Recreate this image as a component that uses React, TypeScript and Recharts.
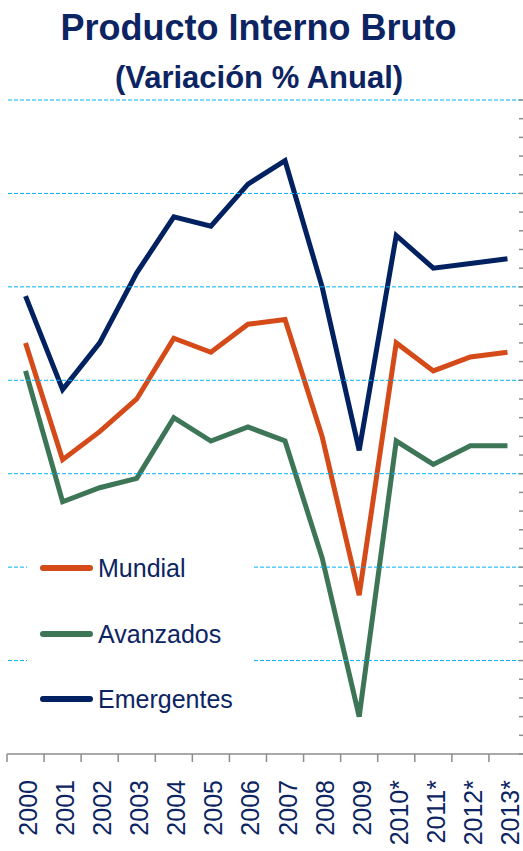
import { LineChart, Line, XAxis, YAxis } from "recharts";

// Años (los proyectados con *)
const years = [
  "2000", "2001", "2002", "2003", "2004", "2005", "2006",
  "2007", "2008", "2009", "2010*", "2011*", "2012*", "2013*",
];

// Variación % anual del PIB
const mundial = [4.8, 2.3, 2.9, 3.6, 4.9, 4.6, 5.2, 5.3, 2.8, -0.6, 4.8, 4.2, 4.5, 4.6];
const avanzados = [4.2, 1.4, 1.7, 1.9, 3.2, 2.7, 3.0, 2.7, 0.2, -3.2, 2.7, 2.2, 2.6, 2.6];
const emergentes = [5.8, 3.8, 4.8, 6.3, 7.5, 7.3, 8.2, 8.7, 6.0, 2.5, 7.1, 6.4, 6.5, 6.6];

// líneas de cuadrícula y marcas menores del eje derecho
const gridValues = [-2, 0, 2, 4, 6, 8, 10];
const minorTicks = [
  -4, -3.6, -3.2, -2.8, -2.4, -2, -1.6, -1.2, -0.8, -0.4, 0, 0.4, 0.8, 1.2, 1.6, 2,
  2.4, 2.8, 3.2, 3.6, 4, 4.4, 4.8, 5.2, 5.6, 6, 6.4, 6.8, 7.2, 7.6, 8, 8.4, 8.8,
  9.2, 9.6, 10,
];

const NAVY_TEXT = "#0c2462";
const FONT = "'Liberation Sans', Arial, sans-serif";

const SERIES = [
  { key: "Mundial", color: "#d44b19" },
  { key: "Avanzados", color: "#3d7557" },
  { key: "Emergentes", color: "#022161" },
];

const data = years.map((year, i) => ({
  year,
  Mundial: mundial[i],
  Avanzados: avanzados[i],
  Emergentes: emergentes[i],
}));

const PLOT_L = 7;
const PLOT_W = 519;
const BAND = PLOT_W / years.length;

// Marca entre categorías (estilo Excel) y etiqueta vertical
const YearTick = ({ x, y, payload }: any) => (
  <g>
    <line x1={x - BAND / 2} x2={x - BAND / 2} y1={y} y2={y + 8} stroke="#8c8c8c" strokeWidth={1.5} />
    <text
      transform={`translate(${x + 11.5},${y + 26}) rotate(-90)`}
      textAnchor="end"
      fill={NAVY_TEXT}
      fontSize={25}
      fontFamily={FONT}
    >
      {payload.value}
    </text>
  </g>
);

// marca corta hacia dentro en el borde derecho; en valores pares, línea de cuadrícula
const MinorTick = ({ y, payload }: any) => (
  <g>
    {gridValues.includes(payload.value) && (
      <line
        x1={PLOT_L + 1}
        x2={PLOT_L + PLOT_W}
        y1={y}
        y2={y}
        stroke="#00b0f0"
        strokeWidth={1}
        strokeDasharray="4 2"
      />
    )}
    <line x1={PLOT_L + PLOT_W - 7} x2={PLOT_L + PLOT_W} y1={y} y2={y} stroke="#8c8c8c" strokeWidth={1.5} />
  </g>
);

export default function App() {
  return (
    <div
      style={{
        position: "absolute",
        left: 0,
        top: 0,
        width: 523,
        height: 851,
        overflow: "hidden",
        background: "#fff",
        fontFamily: FONT,
      }}
    >
      <div
        style={{
          position: "absolute",
          top: 9.5,
          left: 0,
          width: 517,
          textAlign: "center",
          fontSize: 36,
          lineHeight: "36px",
          fontWeight: "bold",
          color: NAVY_TEXT,
        }}
      >
        Producto Interno Bruto
      </div>
      <div
        style={{
          position: "absolute",
          top: 61.5,
          left: 0,
          width: 518,
          textAlign: "center",
          fontSize: 31,
          lineHeight: "31px",
          fontWeight: "bold",
          color: NAVY_TEXT,
        }}
      >
        (Variación % Anual)
      </div>

      <div style={{ position: "absolute", left: 0, top: 0 }}>
        <LineChart
          width={PLOT_L + PLOT_W + 1}
          height={851}
          data={data}
          margin={{ top: 100, right: 0, left: PLOT_L, bottom: 0 }}
        >
          <YAxis
            orientation="right"
            width={1}
            domain={[-4, 10]}
            ticks={minorTicks}
            interval={0}
            tick={<MinorTick />}
            tickLine={false}
            axisLine={false}
          />
          <XAxis
            dataKey="year"
            height={97}
            interval={0}
            padding={{ left: BAND / 2, right: BAND / 2 }}
            tickSize={0}
            tickMargin={0}
            tickLine={false}
            axisLine={{ stroke: "#8c8c8c", strokeWidth: 1.5 }}
            tick={<YearTick />}
          />
          {SERIES.map((s) => (
            <Line
              key={s.key}
              type="linear"
              dataKey={s.key}
              stroke={s.color}
              strokeWidth={5}
              dot={false}
              isAnimationActive={false}
            />
          ))}
        </LineChart>
      </div>

      {/* leyenda con fondo blanco sobre la cuadrícula */}
      <div
        style={{
          position: "absolute",
          left: 27,
          top: 540,
          width: 227,
          height: 185,
          background: "#fff",
        }}
      >
        {SERIES.map((s, i) => (
          <div
            key={s.key}
            style={{
              position: "absolute",
              left: 13,
              top: 28 + i * 65.5 - 15,
              height: 30,
              display: "flex",
              alignItems: "center",
            }}
          >
            <div
              style={{
                width: 53,
                height: 6,
                borderRadius: 3,
                background: s.color,
                marginRight: 5,
              }}
            />
            <span style={{ fontSize: 25, color: NAVY_TEXT, lineHeight: "30px" }}>
              {s.key}
            </span>
          </div>
        ))}
      </div>
    </div>
  );
}
